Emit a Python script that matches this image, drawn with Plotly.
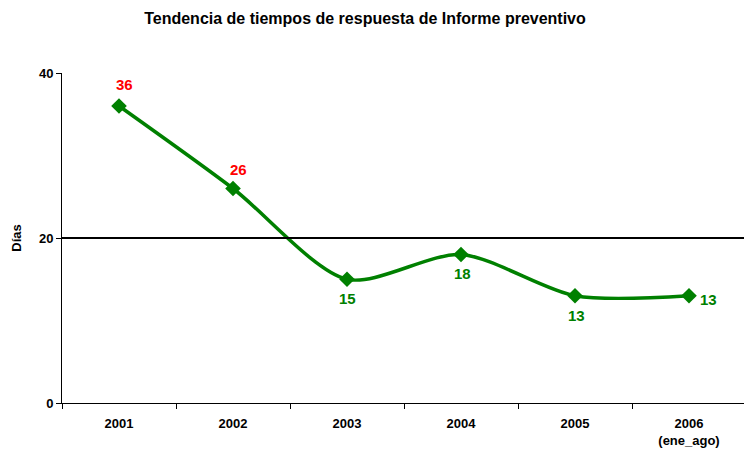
import plotly.graph_objects as go

years = ["2001", "2002", "2003", "2004", "2005", "2006"]
tick_text = ["2001", "2002", "2003", "2004", "2005", "2006<br>(ene_ago)"]
dias = [36, 26, 15, 18, 13, 13]
label_colors = ["#FF0000", "#FF0000", "#008000", "#008000", "#008000", "#008000"]
label_dx = [5, 5, 0, 1, 1, 19]
label_dy = [22, 19, -19, -19, -20, -4]
meta = 20
y_ticks = [0, 20, 40]

FONT = "Liberation Sans, Arial, sans-serif"
# page body has an 8px default margin; compensate so the chart sits where the reference does
OFF = 8

fig = go.Figure()
fig.add_trace(go.Scatter(
    x=years, y=dias, mode="lines+markers",
    line=dict(color="#008000", width=3.5, shape="spline", smoothing=0.8),
    marker=dict(symbol="diamond", size=12, color="#008000"),
    cliponaxis=False, showlegend=False, hoverinfo="skip",
))
for i, (v, c, dx, dy) in enumerate(zip(dias, label_colors, label_dx, label_dy)):
    fig.add_annotation(x=i, y=v, xref="x", yref="y", text=f"<b>{v}</b>", showarrow=False,
                       xshift=dx, yshift=dy,
                       font=dict(family=FONT, size=15, color=c))
fig.add_hline(y=meta, line=dict(color="black", width=2))

fig.update_layout(
    width=752, height=456,
    margin=dict(l=62 - OFF, r=6 + OFF, t=73 - OFF, b=53 + OFF),
    paper_bgcolor="white", plot_bgcolor="white",
    title=dict(text="<b>Tendencia de tiempos de respuesta de Informe preventivo</b>",
               x=(365 - OFF) / 752, xanchor="center", y=1 - (18 - OFF) / 456, yanchor="middle",
               font=dict(family=FONT, size=16, color="black")),
    font=dict(family=FONT, color="black"),
)
fig.update_xaxes(
    type="category", categoryorder="array", categoryarray=years,
    tickvals=years,
    ticktext=["<br>".join(f"<b>{p}</b>" for p in t.split("<br>")) for t in tick_text],
    tickson="boundaries", ticks="outside", ticklen=5, tickcolor="black",
    ticklabelstandoff=8,
    showline=True, linecolor="black", linewidth=1, showgrid=False, zeroline=False,
    tickfont=dict(family=FONT, size=13, color="black"), range=[-0.5, 5.5],
    automargin=False,
)
fig.update_yaxes(
    range=[0, 40], tickvals=y_ticks, ticktext=[f"<b>{v}</b>" for v in y_ticks],
    ticks="outside", ticklen=5, tickcolor="black",
    showline=True, linecolor="black", linewidth=1, showgrid=False, zeroline=False,
    tickfont=dict(family=FONT, size=13, color="black"),
    title=dict(text="<b>Días</b>", font=dict(family=FONT, size=13, color="black"), standoff=14),
    automargin=False,
)

fig.write_html("out.html")
